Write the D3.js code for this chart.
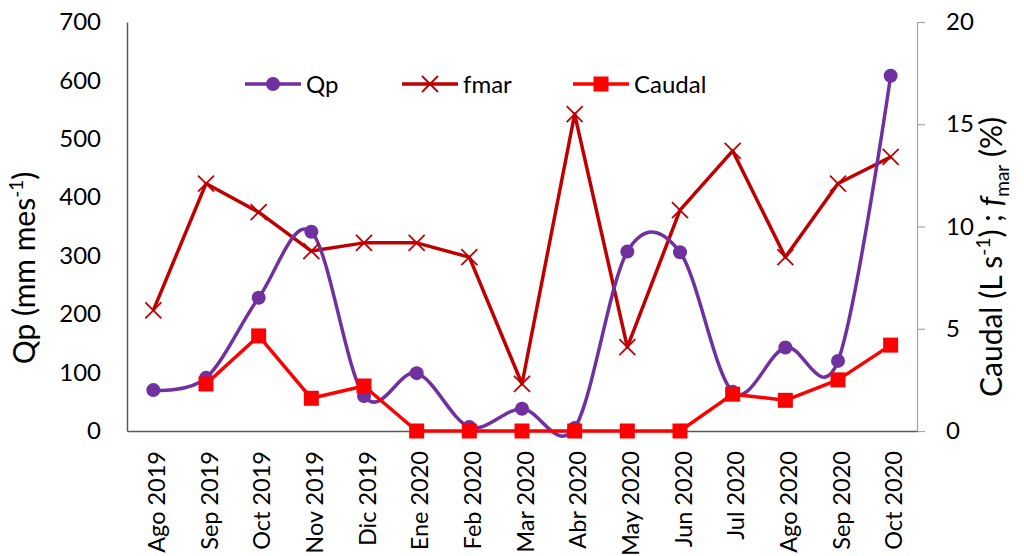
<!DOCTYPE html>
<html>
<head>
<meta charset="utf-8">
<script src="https://cdn.jsdelivr.net/npm/d3@7"></script>
<style>
html,body{margin:0;padding:0;background:#fff;}
svg{display:block;font-family:Lato,"Open Sans",sans-serif;}
</style>
</head>
<body>
<svg id="chart" width="1024" height="556"></svg>
<script>
const months = ["Ago 2019","Sep 2019","Oct 2019","Nov 2019","Dic 2019","Ene 2020","Feb 2020","Mar 2020","Abr 2020","May 2020","Jun 2020","Jul 2020","Ago 2020","Sep 2020","Oct 2020"];
const qp = [70, 91, 228, 341, 60, 99, 7, 38, 5, 307, 306, 67, 143, 120, 608];
const fmar = [5.9, 12.1, 10.7, 8.8, 9.2, 9.2, 8.5, 2.3, 15.5, 4.1, 10.8, 13.7, 8.5, 12.1, 13.4];
const caudal = [null, 2.3, 4.65, 1.6, 2.2, 0, 0, 0, 0, 0, 0, 1.8, 1.5, 2.5, 4.2];
const leftTicks = [0,100,200,300,400,500,600,700];
const rightTicks = [0,5,10,15,20];

const cQp = "#7030A0", cF = "#C00000", cC = "#FF0000";
const svg = d3.select("#chart");
const L = 127, R = 917, T = 22, B = 431;

const x = d3.scaleBand().domain(months).range([L, R]).padding(0);
const cx = d => x(d) + x.bandwidth()/2;
const yL = d3.scaleLinear().domain([0,700]).range([B, T]);
const yR = d3.scaleLinear().domain([0,20]).range([B, T]);

// left axis
const gl = svg.append("g").attr("transform", `translate(${L},0)`)
  .call(d3.axisLeft(yL).tickValues(leftTicks).tickSize(0).tickPadding(26));
gl.select(".domain").attr("stroke", "#595959").attr("stroke-width", 1.5);
gl.selectAll("text").attr("font-size", 24).attr("fill", "#000").attr("font-family", "Lato");

// right axis
const gr = svg.append("g").attr("transform", `translate(${R},0)`)
  .call(d3.axisRight(yR).tickValues(rightTicks).tickSize(8).tickSizeOuter(0).tickPadding(21));
gr.select(".domain").attr("stroke", "#A6A6A6").attr("stroke-width", 1.2);
gr.selectAll(".tick line").attr("stroke", "#A6A6A6").attr("stroke-width", 1.2);
gr.selectAll("text").attr("font-size", 24).attr("fill", "#000").attr("font-family", "Lato");

// bottom axis
const gb = svg.append("g").attr("transform", `translate(0,${B})`)
  .call(d3.axisBottom(x).tickSize(0).tickSizeOuter(0));
gb.select(".domain").attr("stroke", "#595959").attr("stroke-width", 1.5);
gb.selectAll("text")
  .attr("font-size", 23.5).attr("fill", "#000").attr("font-family", "Lato")
  .attr("text-anchor", "end")
  .attr("transform", "rotate(-90)")
  .attr("x", -20).attr("y", 0).attr("dy", "0.5em");

// fmar line
svg.append("path").datum(fmar)
  .attr("fill", "none").attr("stroke", cF).attr("stroke-width", 3.5).attr("stroke-linejoin", "round")
  .attr("d", d3.line().x((d,i)=>cx(months[i])).y(d=>yR(d)));

// Qp smooth line
svg.append("path").datum(qp)
  .attr("fill", "none").attr("stroke", cQp).attr("stroke-width", 3.5)
  .attr("d", d3.line().curve(d3.curveCardinal.tension(0)).x((d,i)=>cx(months[i])).y(d=>yL(d)));

// caudal line
svg.append("path").datum(caudal)
  .attr("fill", "none").attr("stroke", cC).attr("stroke-width", 3.5).attr("stroke-linejoin", "round")
  .attr("d", d3.line().defined(d=>d!==null).x((d,i)=>cx(months[i])).y(d=>yR(d)));

// markers
svg.append("g").selectAll("circle").data(qp).join("circle")
  .attr("cx", (d,i)=>cx(months[i])).attr("cy", d=>yL(d)).attr("r", 7).attr("fill", cQp);

const xm = 8;
svg.append("g").selectAll("path").data(fmar).join("path")
  .attr("d", (d,i)=>{const px=cx(months[i]), py=yR(d);
    return `M${px-xm},${py-xm}L${px+xm},${py+xm}M${px-xm},${py+xm}L${px+xm},${py-xm}`;})
  .attr("stroke", cF).attr("stroke-width", 1.8).attr("fill","none");

svg.append("g").selectAll("rect").data(caudal.map((v,i)=>({v,i})).filter(d=>d.v!==null)).join("rect")
  .attr("x", d=>cx(months[d.i])-7.5).attr("y", d=>yR(d.v)-7.5).attr("width", 15).attr("height", 15).attr("fill", cC);

// axis titles
const lt = svg.append("text").attr("transform", "translate(35,268) rotate(-90)")
  .attr("text-anchor","middle").attr("font-size", 30).attr("fill","#000");
lt.append("tspan").text("Qp (mm mes");
lt.append("tspan").text("-1").attr("font-size", 19).attr("dy", -12);
lt.append("tspan").text(")").attr("dy", 12);

const rt = svg.append("text").attr("transform", "translate(1002,257) rotate(-90)")
  .attr("text-anchor","middle").attr("font-size", 30).attr("fill","#000");
rt.append("tspan").text("Caudal (L s");
rt.append("tspan").text("-1").attr("font-size", 19).attr("dy", -12);
rt.append("tspan").text(") ; ").attr("dy", 12);
rt.append("tspan").text("f").attr("font-style","italic");
rt.append("tspan").text("mar").attr("font-size", 19).attr("dy", 7);
rt.append("tspan").text(" (%)").attr("dy", -7);

// legend
const legend = [
  {name:"Qp", color:cQp, type:"circle", x0:245},
  {name:"fmar", color:cF, type:"x", x0:402},
  {name:"Caudal", color:cC, type:"square", x0:573}
];
const ly = 84;
const lg = svg.append("g").selectAll("g").data(legend).join("g");
lg.append("line").attr("x1", d=>d.x0).attr("x2", d=>d.x0+56).attr("y1", ly).attr("y2", ly)
  .attr("stroke", d=>d.color).attr("stroke-width", 3.5);
lg.each(function(d){
  const g = d3.select(this), mx = d.x0+28;
  if (d.type==="circle") g.append("circle").attr("cx", mx).attr("cy", ly).attr("r", 7).attr("fill", d.color);
  else if (d.type==="square") g.append("rect").attr("x", mx-7.5).attr("y", ly-7.5).attr("width",15).attr("height",15).attr("fill", d.color);
  else g.append("path").attr("d", `M${mx-xm},${ly-xm}L${mx+xm},${ly+xm}M${mx-xm},${ly+xm}L${mx+xm},${ly-xm}`)
        .attr("stroke", d.color).attr("stroke-width", 1.8);
});
lg.append("text").attr("x", d=>d.x0+61).attr("y", ly).attr("dy","0.36em")
  .attr("font-size", 24).attr("fill","#000").text(d=>d.name);
</script>
</body>
</html>
